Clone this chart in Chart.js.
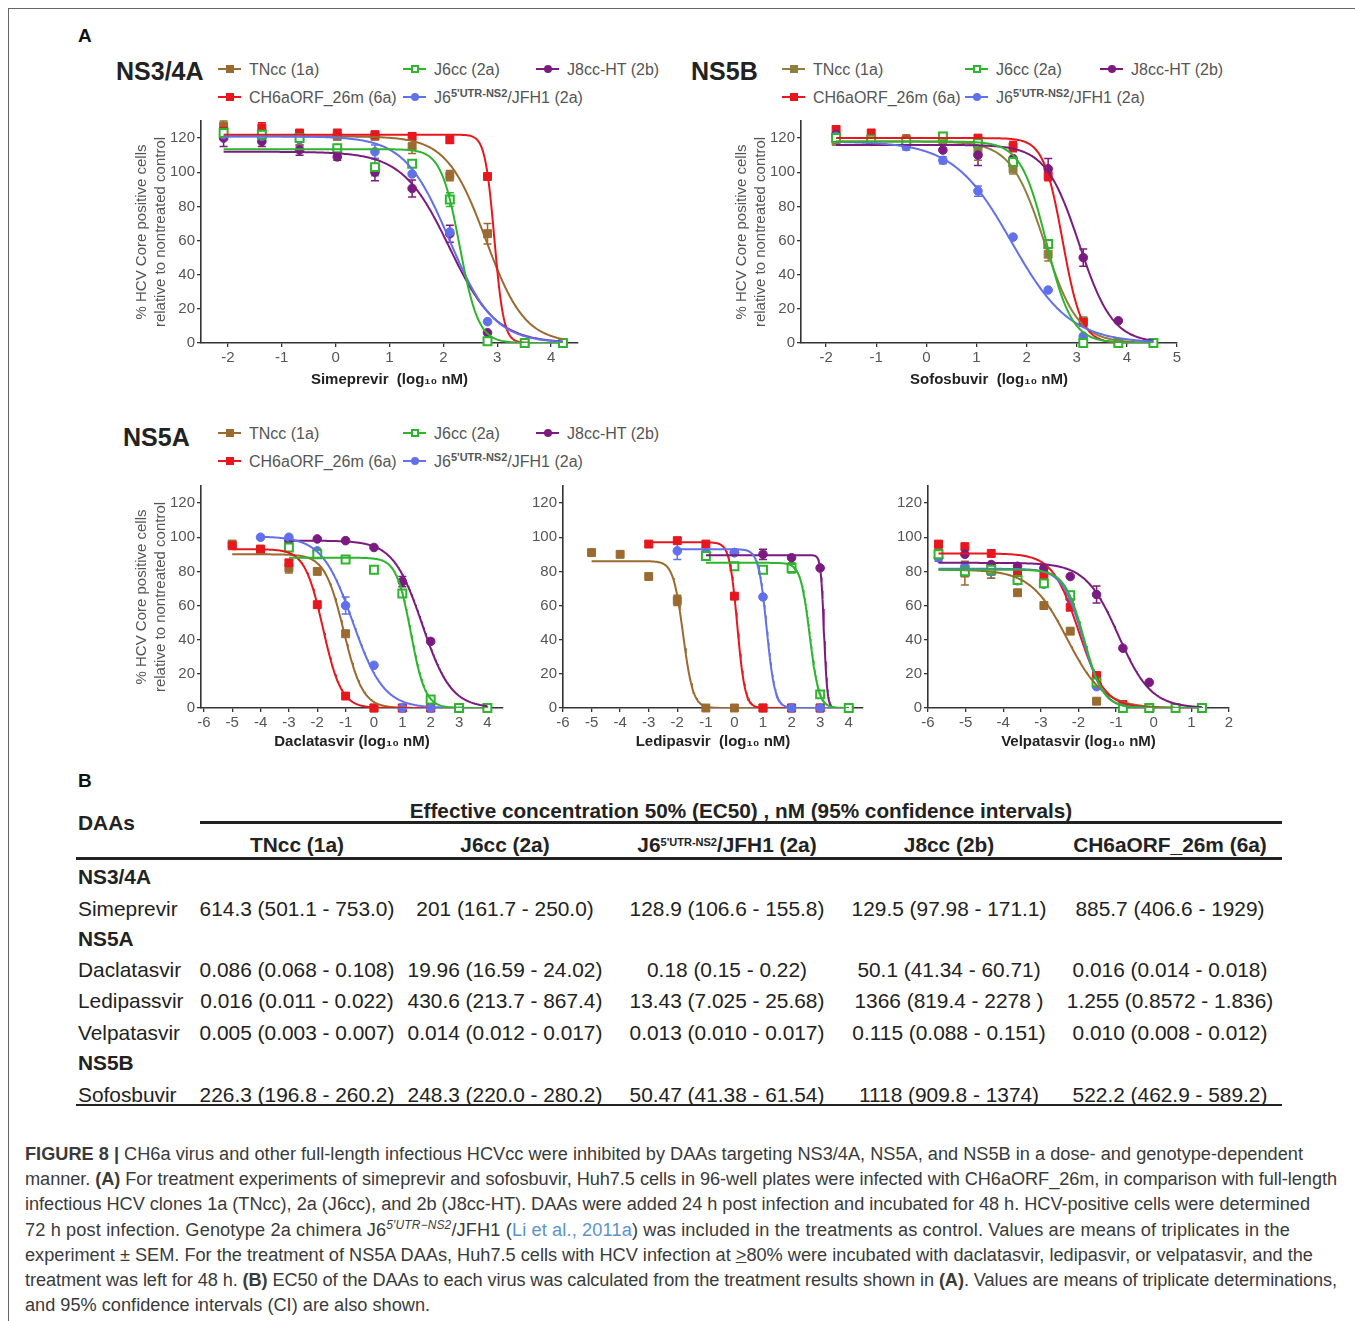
<!DOCTYPE html>
<html>
<head>
<meta charset="utf-8">
<script src="https://cdn.jsdelivr.net/npm/chart.js@4.4.1/dist/chart.umd.min.js"></script>
<style>
  body { margin: 0; background: #fff; width: 1355px; height: 1321px; overflow: hidden; position: relative;
         font-family: 'Liberation Sans', Arial, sans-serif; }
  .abs { position: absolute; }
  #frame { left: 8px; top: 8px; width: 1400px; height: 1400px; border: 1px solid #666; }
  sup.s { font-size: 11px; font-weight: bold; vertical-align: 6px; line-height: 0; }
  #caption { left: 25px; top: 1142px; color: #3a3a3a; line-height: 25.2px; font-size: 17px; }
  #caption div { white-space: nowrap; }
  #caption span.ln { display: inline-block; }
  #caption .ref { color: #5b93c9; }
</style>
</head>
<body>
<div id="frame" class="abs"></div>
<div id="caption" class="abs">
  <div><span class="ln"><b>FIGURE 8 |</b> CH6a virus and other full-length infectious HCVcc were inhibited by DAAs targeting NS3/4A, NS5A, and NS5B in a dose- and genotype-dependent</span></div>
  <div><span class="ln">manner. <b>(A)</b> For treatment experiments of simeprevir and sofosbuvir, Huh7.5 cells in 96-well plates were infected with CH6aORF_26m, in comparison with full-length</span></div>
  <div><span class="ln">infectious HCV clones 1a (TNcc), 2a (J6cc), and 2b (J8cc-HT). DAAs were added 24 h post infection and incubated for 48 h. HCV-positive cells were determined</span></div>
  <div><span class="ln">72 h post infection. Genotype 2a chimera J6<sup style="font-size:12px;line-height:0"><i>5′UTR−NS2</i></sup>/JFH1 (<span class="ref">Li et al., 2011a</span>) was included in the treatments as control. Values are means of triplicates in the</span></div>
  <div><span class="ln">experiment ± SEM. For the treatment of NS5A DAAs, Huh7.5 cells with HCV infection at <u>&gt;</u>80% were incubated with daclatasvir, ledipasvir, or velpatasvir, and the</span></div>
  <div><span class="ln">treatment was left for 48 h. <b>(B)</b> EC50 of the DAAs to each virus was calculated from the treatment results shown in <b>(A)</b>. Values are means of triplicate determinations,</span></div>
  <div><span class="ln">and 95% confidence intervals (CI) are also shown.</span></div>
</div>
<script>
// ---------- series (table column order: TNcc, J6cc, J6/JFH1, J8cc, CH6a) ----------
const tableHeads = ['TNcc (1a)', 'J6cc (2a)', 'J6<sup class="s">5\'UTR-NS2</sup>/JFH1 (2a)', 'J8cc (2b)', 'CH6aORF_26m (6a)'];
const legendNames = ['TNcc (1a)', 'J6cc (2a)', 'J6<sup class="s">5\'UTR-NS2</sup>/JFH1 (2a)', 'J8cc-HT (2b)', 'CH6aORF_26m (6a)'];
const markers = ['rect', 'rect', 'circle', 'circle', 'rect'];

// EC50, nM (95% CI) - table B, also used for the fitted curves
const ec50Sime  = ['614.3 (501.1 - 753.0)', '201 (161.7 - 250.0)', '128.9 (106.6 - 155.8)', '129.5 (97.98 - 171.1)', '885.7 (406.6 - 1929)'];
const ec50Dacla = ['0.086 (0.068 - 0.108)', '19.96 (16.59 - 24.02)', '0.18 (0.15 - 0.22)', '50.1 (41.34 - 60.71)', '0.016 (0.014 - 0.018)'];
const ec50Ledi  = ['0.016 (0.011 - 0.022)', '430.6 (213.7 - 867.4)', '13.43 (7.025 - 25.68)', '1366 (819.4 - 2278 )', '1.255 (0.8572 - 1.836)'];
const ec50Velpa = ['0.005 (0.003 - 0.007)', '0.014 (0.012 - 0.017)', '0.013 (0.010 - 0.017)', '0.115 (0.088 - 0.151)', '0.010 (0.008 - 0.012)'];
const ec50Sofo  = ['226.3 (196.8 - 260.2)', '248.3 (220.0 - 280.2)', '50.47 (41.38 - 61.54)', '1118 (909.8 - 1374)', '522.2 (462.9 - 589.2)'];

// Simeprevir (NS3/4A)
const simeDose = [-2.08, -1.37, -0.67, 0.03, 0.73, 1.42, 2.12, 2.82, 3.51, 4.22];
const simeTNcc = [127, 122, 120, 121, 121, 115, 98, 64, 0, 0];
const simeJ6cc = [123, 122, 120, 114, 103, 105, 84, 1, 0, 0];
const simeJFH1 = [122, 121, 119, 114, 112, 99, 65, 12.5, 0, 0];
const simeJ8cc = [120, 118, 113, 109, 100, 90.5, 64, 6, 0, 0];
const simeCH6a = [124, 126, 123, 123, 122, 121, 119, 97.5, 0, 0];
const simeErr = [
  [3, 0, 4, 0, 0, 4, 3, 6, 0, 0],
  [0, 0, 0, 0, 5, 0, 4, 0, 0, 0],
  [0, 0, 4, 0, 4, 0, 0, 0, 0, 0],
  [5, 3, 3, 2, 5, 5, 5, 0, 0, 0],
  [0, 3, 0, 0, 0, 2, 2, 0, 0, 0]];
const simeTop = [121, 113.5, 121, 112, 122];
const simeHill = [1.2, 2.5, 1.05, 1.0, 5];

// Sofosbuvir (NS5B)
const sofoDose = [-1.80, -1.10, -0.40, 0.33, 1.03, 1.73, 2.43, 3.13, 3.83, 4.53];
const sofoTNcc = [118, 118, 118, 118, 112, 102, 52, 13, 0, 0];
const sofoJ6cc = [120, 119, 118, 121, 117, 106, 58, 0, 0, 0];
const sofoJFH1 = [121, 118, 115, 107, 89, 62, 31, 4, 0, 0];
const sofoJ8cc = [122, 119, 116, 113, 110, 108, 102, 50, 13, 0];
const sofoCH6a = [125, 123, 119, 121, 120, 115, 98, 12, 0, 0];
const sofoErr = [
  [0, 0, 4, 0, 5, 3, 4, 2, 0, 0],
  [0, 0, 0, 2, 0, 0, 0, 0, 0, 0],
  [0, 0, 2, 2, 3, 0, 0, 0, 0, 0],
  [0, 0, 0, 0, 6, 0, 6, 5, 0, 0],
  [2, 0, 0, 0, 0, 3, 3, 0, 0, 0]];
const sofoTop = [118, 118, 118, 116, 120];
const sofoHill = [1.3, 1.7, 0.75, 1.3, 2.3];

// Daclatasvir (NS5A)
const daclaDose = [-5, -4, -3, -2, -1, 0, 1, 2, 3, 4];
const daclaTNcc = [96, 93, 82, 80, 43.5, 0, 0, 0, 0, 0];
const daclaJ6cc = [null, null, 94, 90, 87, 81, 67, 5, 0, 0];
const daclaJFH1 = [null, 100, 100, 92, 60, 25, 0, 0, 0, 0];
const daclaJ8cc = [null, null, 98, 99, 98, 94, 74, 39, 0, 0];
const daclaCH6a = [95, 93, 85, 60.5, 7, 0, 0, 0, 0, 0];
const daclaErr = [
  [0, 0, 3, 0, 0, 0, 0, 0, 0, 0],
  [0, 0, 0, 0, 0, 0, 0, 0, 0, 0],
  [0, 0, 0, 0, 5, 0, 0, 0, 0, 0],
  [0, 0, 0, 0, 0, 0, 3, 0, 0, 0],
  [0, 0, 0, 0, 0, 0, 0, 0, 0, 0]];
const daclaTop = [90, 88, 100.5, 98, 93];
const daclaHill = [1.3, 1.7, 0.8, 0.85, 1.35];

// Ledipasvir (NS5A)
const lediDose = [-5, -4, -3, -2, -1, 0, 1, 2, 3, 4];
const lediTNcc = [91, 90, 77, 63, 0, 0, 0, 0, 0, 0];
const lediJ6cc = [null, null, null, null, 89, 83, 81, 82, 8, 0];
const lediJFH1 = [null, null, null, 92, 91, 91, 65, 0, 0, 0];
const lediJ8cc = [null, null, null, null, 90, 91, 90, 88, 82, 0];
const lediCH6a = [null, null, 96, 98, 96, 65.5, 0, 0, 0, 0];
const lediErr = [
  [0, 0, 0, 3, 0, 0, 0, 0, 0, 0],
  [0, 0, 0, 0, 0, 2, 0, 3, 2, 0],
  [0, 0, 0, 5, 0, 0, 0, 0, 0, 0],
  [0, 0, 0, 0, 0, 0, 3, 0, 0, 0],
  [0, 0, 0, 0, 0, 0, 0, 0, 0, 0]];
const lediTop = [86, 85, 93, 89.5, 97];
const lediHill = [2.5, 2.7, 3, 7.5, 3.2];

// Velpatasvir (NS5A)
const velpaDose = [-5.72, -5.02, -4.32, -3.62, -2.92, -2.22, -1.52, -0.82, -0.12, 0.58, 1.28];
const velpaTNcc = [91, 79, 80, 67.5, 60, 45, 4, 0, 0, 0, 0];
const velpaJ6cc = [90, 80, 81, 75, 73, 66, 15, 0, 0, 0, 0];
const velpaJFH1 = [88, 83, 80, 74.5, 72.5, 64, 12.5, 1, 0, 0, 0];
const velpaJ8cc = [88, 90, 84, 83, 82, 77, 66.5, 35, 15, 0, 0];
const velpaCH6a = [96, 94.5, 90.5, 79, 78, 59, 19, 2, 0, 0, 0];
const velpaErr = [
  [0, 7, 4, 0, 0, 0, 0, 0, 0, 0, 0],
  [0, 0, 0, 0, 0, 0, 0, 0, 0, 0, 0],
  [2, 0, 4, 0, 0, 0, 0, 0, 0, 0, 0],
  [0, 0, 0, 0, 0, 0, 5, 0, 0, 0, 0],
  [0, 0, 0, 0, 0, 0, 0, 0, 0, 0, 0]];
const velpaTop = [81, 81, 81.5, 85, 90.5];
const velpaHill = [0.9, 1.7, 1.6, 1.0, 1.25];

// axis ticks
const yTicks = [0, 20, 40, 60, 80, 100, 120];
const simeTicks = [-2, -1, 0, 1, 2, 3, 4];
const sofoTicks = [-2, -1, 0, 1, 2, 3, 4, 5];
const ns5aTicks = [-6, -5, -4, -3, -2, -1, 0, 1, 2, 3, 4];
const velpaTicks = [-6, -5, -4, -3, -2, -1, 0, 1, 2];

// table rows
const rowLabels = ['NS3/4A', 'Simeprevir', 'NS5A', 'Daclatasvir', 'Ledipassvir', 'Velpatasvir', 'NS5B', 'Sofosbuvir'];
const rowValues = [null, ec50Sime, null, ec50Dacla, ec50Ledi, ec50Velpa, null, ec50Sofo];

// ---------- styles ----------
const F = "'Liberation Sans', Arial, sans-serif";
Chart.defaults.font.family = F;
const brown = '#9b6a30', olive = '#8e7f3e', green = '#2db52d', blue = '#6170ec', purple = '#7b1b80', red = '#e8161d';
const colA = [brown, green, blue, purple, red];
const colB = [olive, green, blue, purple, red];
const drawOrder = [1, 2, 3, 4, 0];
const yTitle = ['% HCV Core positive cells', 'relative to nontreated control'];

function el(html, style) {
  const d = document.createElement('div');
  d.className = 'abs';
  d.innerHTML = html;
  Object.assign(d.style, style);
  document.body.appendChild(d);
  return d;
}
function txt(html, x, yc, size, o = {}) {
  const lh = Math.round(size * 1.3);
  return el(html, {
    left: x + 'px', top: (yc - lh / 2) + 'px', fontSize: size + 'px', lineHeight: lh + 'px',
    fontWeight: o.bold ? 'bold' : 'normal', color: o.color || '#222', whiteSpace: 'nowrap',
    transform: o.center ? 'translateX(-50%)' : 'none'
  });
}

// error bars drawn under the markers
const errPlugin = {
  id: 'errBars',
  beforeDatasetsDraw(chart) {
    const {ctx, scales: {x, y}} = chart;
    chart.data.datasets.forEach(ds => {
      if (!ds.errColor) return;
      ctx.save();
      ctx.strokeStyle = ds.errColor;
      ctx.lineWidth = 1.5;
      ds.data.forEach(p => {
        if (!p.e) return;
        const px = x.getPixelForValue(p.x);
        const y1 = y.getPixelForValue(p.y + p.e), y2 = y.getPixelForValue(Math.max(0, p.y - p.e));
        ctx.beginPath();
        ctx.moveTo(px, y1); ctx.lineTo(px, y2);
        ctx.moveTo(px - 4, y1); ctx.lineTo(px + 4, y1);
        ctx.moveTo(px - 4, y2); ctx.lineTo(px + 4, y2);
        ctx.stroke();
      });
      ctx.restore();
    });
  }
};

function plot(p) {
  const wrap = el('', {left: p.box[0] + 'px', top: p.box[1] + 'px', width: p.box[2] + 'px', height: p.box[3] + 'px'});
  const cv = document.createElement('canvas');
  cv.width = p.box[2]; cv.height = p.box[3];
  wrap.appendChild(cv);

  const datasets = [];
  // fitted dose-response curves (4-parameter logistic, bottom 0, EC50 from table B)
  drawOrder.forEach(i => {
    const s = p.series[i];
    const start = p.dose[s.findIndex(v => v !== null)];
    const end = p.dose[p.dose.length - 1];
    const logEC = Math.log10(parseFloat(p.ec50[i]));
    const pts = [];
    for (let k = 0; k <= 300; k++) {
      const xv = start + (end - start) * k / 300;
      pts.push({x: xv, y: p.top[i] / (1 + Math.pow(10, (xv - logEC) * p.hill[i]))});
    }
    datasets.push({type: 'line', data: pts, borderColor: p.colors[i], borderWidth: 2,
                   pointRadius: 0, tension: 0, fill: false});
  });
  // measured points
  drawOrder.forEach(i => {
    const pts = [];
    p.series[i].forEach((v, k) => { if (v !== null) pts.push({x: p.dose[k], y: v, e: p.errs[i][k]}); });
    const open = i === 1;
    datasets.push({type: 'scatter', data: pts, showLine: false, clip: false,
      pointStyle: markers[i], pointRadius: markers[i] === 'rect' ? 5.6 : 4.3,
      pointBackgroundColor: open ? '#fff' : p.colors[i], pointBorderColor: p.colors[i],
      pointBorderWidth: open ? 2 : 1, errColor: p.colors[i]});
  });

  const grid = {drawOnChartArea: false, tickLength: 4, color: '#333', lineWidth: 1.3};
  const border = {color: '#333', width: 1.6};
  new Chart(cv, {
    type: 'scatter',
    data: {datasets},
    plugins: [errPlugin],
    options: {
      responsive: false, animation: false, devicePixelRatio: 1,
      layout: {padding: {top: p.pad[0], right: p.pad[1], left: 0, bottom: 0}},
      plugins: {legend: {display: false}, tooltip: {enabled: false}},
      scales: {
        x: {type: 'linear', min: p.xr[0], max: p.xr[1],
            afterBuildTicks: s => { s.ticks = p.xTicks.map(v => ({value: v})); },
            afterFit: s => { s.height = p.xH; },
            grid, border,
            ticks: {color: '#555', font: {size: 15}, padding: 2, maxRotation: 0, autoSkip: false},
            title: {display: true, text: p.xTitle, color: '#222', font: {size: 15, weight: 'bold'},
                    padding: {top: 0, bottom: 4}}},
        y: {min: 0, max: 130,
            afterBuildTicks: s => { s.ticks = yTicks.map(v => ({value: v})); },
            afterFit: s => { s.width = p.yW; },
            grid, border,
            ticks: {color: '#555', font: {size: 15}, padding: 2},
            title: {display: !!p.yTitle, text: yTitle, color: '#555', font: {size: 15, lineHeight: 1.3},
                    padding: {top: 4, bottom: 0}}}
      }
    }
  });
}

function legend(title, tx, ty, xs, ys, colors) {
  txt(title, tx, ty, 25, {bold: true});
  const slots = [[0, 0], [1, 0], [1, 1], [2, 0], [0, 1]];
  slots.forEach(([c, r], i) => {
    const x = xs[c], y = ys[r];
    el('', {left: x + 'px', top: (y - 1.25) + 'px', width: '23px', height: '2.5px', background: colors[i]});
    const open = i === 1;
    el('', {left: (x + 7.5) + 'px', top: (y - 4) + 'px', width: open ? '4px' : '8px', height: open ? '4px' : '8px',
            background: open ? '#fff' : colors[i], border: open ? '2px solid ' + colors[i] : 'none',
            borderRadius: markers[i] === 'circle' ? '50%' : '0'});
    txt(legendNames[i], x + 31, y, 16, {color: '#555'});
  });
}

// ---------- panel A ----------
txt('A', 78, 35, 19, {bold: true, color: '#111'});

legend('NS3/4A', 116, 71, [218, 403, 536], [69, 97], colA);
plot({box: [128, 110, 460, 283], pad: [8, 10], yW: 73, xH: 50, xr: [-2.5, 4.5], xTicks: simeTicks,
      yTitle: true, xTitle: 'Simeprevir  (log₁₀ nM)', dose: simeDose,
      series: [simeTNcc, simeJ6cc, simeJFH1, simeJ8cc, simeCH6a], errs: simeErr,
      top: simeTop, hill: simeHill, ec50: ec50Sime, colors: colA});

legend('NS5B', 691, 71, [782, 965, 1100], [69, 97], colB);
plot({box: [728, 110, 462, 283], pad: [8, 13], yW: 73, xH: 50, xr: [-2.5, 5], xTicks: sofoTicks,
      yTitle: true, xTitle: 'Sofosbuvir  (log₁₀ nM)', dose: sofoDose,
      series: [sofoTNcc, sofoJ6cc, sofoJFH1, sofoJ8cc, sofoCH6a], errs: sofoErr,
      top: sofoTop, hill: sofoHill, ec50: ec50Sofo, colors: colB});

legend('NS5A', 123, 437, [218, 403, 536], [433, 461], colA);
plot({box: [128, 475, 387, 280], pad: [8, 12], yW: 73, xH: 47, xr: [-6.1, 4.55], xTicks: ns5aTicks,
      yTitle: true, xTitle: 'Daclatasvir (log₁₀ nM)', dose: daclaDose,
      series: [daclaTNcc, daclaJ6cc, daclaJFH1, daclaJ8cc, daclaCH6a], errs: daclaErr,
      top: daclaTop, hill: daclaHill, ec50: ec50Dacla, colors: colA});
plot({box: [523, 475, 352, 280], pad: [8, 12], yW: 40, xH: 47, xr: [-6, 4.5], xTicks: ns5aTicks,
      yTitle: false, xTitle: 'Ledipasvir  (log₁₀ nM)', dose: lediDose,
      series: [lediTNcc, lediJ6cc, lediJFH1, lediJ8cc, lediCH6a], errs: lediErr,
      top: lediTop, hill: lediHill, ec50: ec50Ledi, colors: colA});
plot({box: [888, 475, 354, 280], pad: [8, 13], yW: 40, xH: 47, xr: [-6, 2], xTicks: velpaTicks,
      yTitle: false, xTitle: 'Velpatasvir (log₁₀ nM)', dose: velpaDose,
      series: [velpaTNcc, velpaJ6cc, velpaJFH1, velpaJ8cc, velpaCH6a], errs: velpaErr,
      top: velpaTop, hill: velpaHill, ec50: ec50Velpa, colors: colA});

// ---------- panel B (table) ----------
txt('B', 78, 780, 19, {bold: true, color: '#111'});

// font size so that one cell matches its width in the figure
const probe = txt(ec50Sime[0], -2000, 0, 20);
const tf = 20 * 195 / probe.getBoundingClientRect().width;
probe.remove();

const head = txt('Effective concentration 50% (EC50) , nM (95% confidence intervals)', 741, 810, 19, {bold: true, center: true});
head.style.fontSize = (19 * 663 / head.getBoundingClientRect().width) + 'px';
txt('DAAs', 78, 822, tf, {bold: true});
el('', {left: '200px', top: '821px', width: '1082px', height: '2.5px', background: '#222'});
const colX = [297, 505, 727, 949, 1170];
tableHeads.forEach((h, i) => txt(h, colX[i], 844, tf, {bold: true, center: true}));
el('', {left: '76px', top: '857px', width: '1206px', height: '2.5px', background: '#222'});
const rowY = [876, 908, 938, 969, 1000, 1032, 1062, 1094];
rowLabels.forEach((lab, r) => {
  const vals = rowValues[r];
  txt(lab, 78, rowY[r], tf, {bold: !vals});
  if (vals) vals.forEach((v, i) => txt(v, colX[i], rowY[r], tf, {center: true}));
});
el('', {left: '76px', top: '1104px', width: '1206px', height: '2px', background: '#222'});

// caption: size font from the first line, then nudge letter spacing so each line ends where it does in the figure
const cap = document.getElementById('caption');
const lines = cap.querySelectorAll('span.ln');
cap.style.fontSize = (17 * 1278 / lines[0].getBoundingClientRect().width) + 'px';
const lineEnds = [1303, 1337, 1310, 1290, 1313, 1337];
lineEnds.forEach((end, i) => {
  const ln = lines[i];
  const w = ln.getBoundingClientRect().width;
  const n = ln.textContent.length;
  ln.style.letterSpacing = ((end - 25 - w) / n) + 'px';
});
</script>
</body>
</html>
